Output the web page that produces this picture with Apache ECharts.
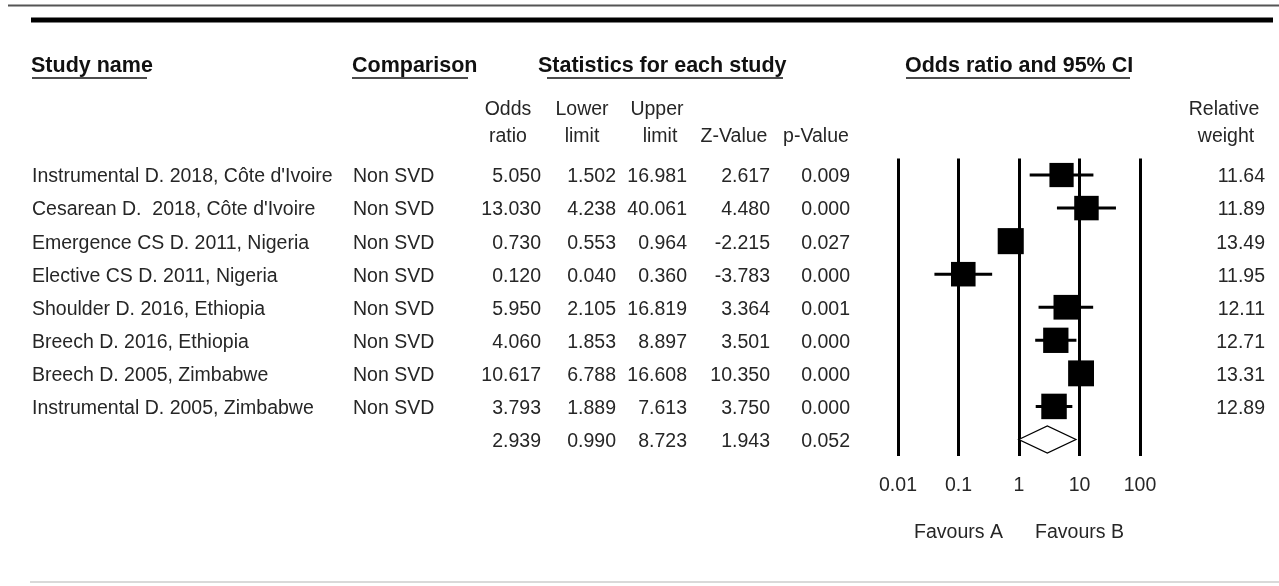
<!DOCTYPE html>
<html><head><meta charset="utf-8">
<script src="https://cdn.jsdelivr.net/npm/echarts@6/dist/echarts.min.js"></script>
<style>html,body{margin:0;padding:0;background:#fff}#c{width:1279px;height:586px}</style>
</head><body><div id="c"></div>
<script>
// ---------------- data ----------------
const studies = [
  "Instrumental D. 2018, Côte d'Ivoire",
  "Cesarean D.  2018, Côte d'Ivoire",
  "Emergence CS D. 2011, Nigeria",
  "Elective CS D. 2011, Nigeria",
  "Shoulder D. 2016, Ethiopia",
  "Breech D. 2016, Ethiopia",
  "Breech D. 2005, Zimbabwe",
  "Instrumental D. 2005, Zimbabwe"
];
const comparison = ["Non SVD","Non SVD","Non SVD","Non SVD","Non SVD","Non SVD","Non SVD","Non SVD"];
const oddsRatio  = [5.050, 13.030, 0.730, 0.120, 5.950, 4.060, 10.617, 3.793];
const lowerLimit = [1.502, 4.238, 0.553, 0.040, 2.105, 1.853, 6.788, 1.889];
const upperLimit = [16.981, 40.061, 0.964, 0.360, 16.819, 8.897, 16.608, 7.613];
const zValue     = [2.617, 4.480, -2.215, -3.783, 3.364, 3.501, 10.350, 3.750];
const pValue     = [0.009, 0.000, 0.027, 0.000, 0.001, 0.000, 0.000, 0.000];
const relWeight  = [11.64, 11.89, 13.49, 11.95, 12.11, 12.71, 13.31, 12.89];
// pooled: odds ratio, lower, upper, z, p
const pooledStats = [2.939, 0.990, 8.723, 1.943, 0.052];
const axisTicks = [0.01, 0.1, 1, 10, 100];
const favourLabels = [["Favours A", 0.1], ["Favours B", 10]];

// ---------------- layout ----------------
const FONT = '"Liberation Sans", Arial, sans-serif';
const REG = '19.5px ' + FONT;
const BOLD = 'bold 21.5px ' + FONT;
const TXT = '#262626';
// column anchors: [x, align]
const cols = {
  study: [32, 'left'], comp: [353, 'left'],
  or: [541, 'right'], lo: [616, 'right'], up: [687, 'right'],
  z: [770, 'right'], p: [850, 'right'], w: [1265, 'right']
};

const nRows = studies.length;
const tableData = studies.map((s, i) => [1, i]);
const forestData = oddsRatio.map((v, i) => [v, lowerLimit[i], upperLimit[i], relWeight[i], i]);
const pooledData = [[pooledStats[0], pooledStats[1], pooledStats[2], nRows]];

function txt(x, y, text, align, font, fill) {
  return { type: 'text', x: x, y: y, style: { text: text, align: align, verticalAlign: 'middle', font: font || REG, fill: fill || TXT } };
}

const chart = echarts.init(document.getElementById('c'), null, { renderer: 'canvas' });

const headerGraphics = [
  { type: 'line', shape: { x1: 8, y1: 5.5, x2: 1279, y2: 5.5 }, style: { stroke: '#555', lineWidth: 2 } },
  { type: 'line', shape: { x1: 31, y1: 20, x2: 1273, y2: 20 }, style: { stroke: '#000', lineWidth: 5 } },
  { type: 'line', shape: { x1: 30, y1: 582, x2: 1279, y2: 582 }, style: { stroke: '#d9d9d9', lineWidth: 2 } },
  txt(31, 66.5, 'Study name', 'left', BOLD, '#111'),
  txt(352, 66.5, 'Comparison', 'left', BOLD, '#111'),
  txt(538, 66.5, 'Statistics for each study', 'left', BOLD, '#111'),
  txt(905, 66.5, 'Odds ratio and 95% CI', 'left', BOLD, '#111'),
  { type: 'line', shape: { x1: 32, y1: 78, x2: 147, y2: 78 }, style: { stroke: '#111', lineWidth: 1.5 } },
  { type: 'line', shape: { x1: 352, y1: 78, x2: 468, y2: 78 }, style: { stroke: '#111', lineWidth: 1.5 } },
  { type: 'line', shape: { x1: 547, y1: 78, x2: 783, y2: 78 }, style: { stroke: '#111', lineWidth: 1.5 } },
  { type: 'line', shape: { x1: 906, y1: 78, x2: 1130, y2: 78 }, style: { stroke: '#111', lineWidth: 1.5 } },
  txt(508, 109.5, 'Odds', 'center'), txt(508, 136.5, 'ratio', 'center'),
  txt(582, 109.5, 'Lower', 'center'), txt(582, 136.5, 'limit', 'center'),
  txt(657, 109.5, 'Upper', 'center'), txt(660, 136.5, 'limit', 'center'),
  txt(734, 136.5, 'Z-Value', 'center'),
  txt(816, 136.5, 'p-Value', 'center'),
  txt(1224, 109.5, 'Relative', 'center'), txt(1226, 136.5, 'weight', 'center')
];

chart.setOption({
  animation: false,
  backgroundColor: '#fff',
  grid: { left: 898, width: 242, top: 158.5, height: 297.5, containLabel: false },
  xAxis: {
    type: 'log', logBase: 10, min: axisTicks[0], max: axisTicks[axisTicks.length - 1],
    axisLine: { show: false }, axisTick: { show: false },
    splitLine: { show: true, showMinLine: true, showMaxLine: true, lineStyle: { color: '#000', width: 3 } },
    axisLabel: { show: true, margin: 20, fontSize: 19.5, fontFamily: FONT, color: TXT,
      formatter: v => String(Number(Number(v).toPrecision(3))) }
  },
  yAxis: {
    type: 'value', inverse: true, min: -0.5, max: nRows + 0.5, show: false,
    splitLine: { show: false }
  },
  graphic: headerGraphics,
  series: [
    {
      type: 'custom', name: 'table', clip: false, silent: true,
      data: tableData,
      renderItem: function (params, api) {
        const i = api.value(1);
        const y = api.coord([1, i])[1] + 2;
        const cells = [
          [cols.study, studies[i]], [cols.comp, comparison[i]],
          [cols.or, oddsRatio[i].toFixed(3)], [cols.lo, lowerLimit[i].toFixed(3)],
          [cols.up, upperLimit[i].toFixed(3)], [cols.z, zValue[i].toFixed(3)],
          [cols.p, pValue[i].toFixed(3)], [cols.w, relWeight[i].toFixed(2)]
        ];
        return { type: 'group', children: cells.map(c => txt(c[0][0], y, c[1], c[0][1])) };
      }
    },
    {
      type: 'custom', name: 'pooledTable', clip: false, silent: true,
      data: [[1, nRows]],
      renderItem: function (params, api) {
        const y = api.coord([1, api.value(1)])[1] + 2;
        const cells = [[cols.or, pooledStats[0]], [cols.lo, pooledStats[1]], [cols.up, pooledStats[2]], [cols.z, pooledStats[3]], [cols.p, pooledStats[4]]];
        return { type: 'group', children: cells.map(c => txt(c[0][0], y, c[1].toFixed(3), c[0][1])) };
      }
    },
    {
      type: 'custom', name: 'studies', clip: false,
      data: forestData,
      encode: { x: 0, y: 4 },
      renderItem: function (params, api) {
        const i = api.value(4);
        const c = api.coord([api.value(0), i]);
        const l = api.coord([api.value(1), i]);
        const u = api.coord([api.value(2), i]);
        const s = 7.1 * Math.sqrt(api.value(3));
        return {
          type: 'group', children: [
            { type: 'line', shape: { x1: l[0], y1: c[1], x2: u[0], y2: c[1] }, style: { stroke: '#000', lineWidth: 3 } },
            { type: 'rect', shape: { x: c[0] - s / 2, y: c[1] - s / 2, width: s, height: s }, style: { fill: '#000' } }
          ]
        };
      }
    },
    {
      type: 'custom', name: 'pooled', clip: false,
      data: pooledData,
      encode: { x: 0, y: 3 },
      renderItem: function (params, api) {
        const i = api.value(3);
        const c = api.coord([api.value(0), i]);
        const l = api.coord([api.value(1), i]);
        const u = api.coord([api.value(2), i]);
        const h = 13.5;
        return {
          type: 'polygon',
          shape: { points: [[l[0], c[1]], [c[0], c[1] - h], [u[0], c[1]], [c[0], c[1] + h]] },
          style: { fill: '#fff', stroke: '#000', lineWidth: 1.3 }
        };
      }
    },
    {
      type: 'custom', name: 'favours', clip: false, silent: true,
      data: favourLabels.map(f => [f[1], nRows + 0.5]),
      renderItem: function (params, api) {
        const p = api.coord([api.value(0), api.value(1)]);
        return txt(p[0], p[1] + 76.5, favourLabels[params.dataIndex][0], 'center');
      }
    }
  ]
});
</script>
</body></html>
